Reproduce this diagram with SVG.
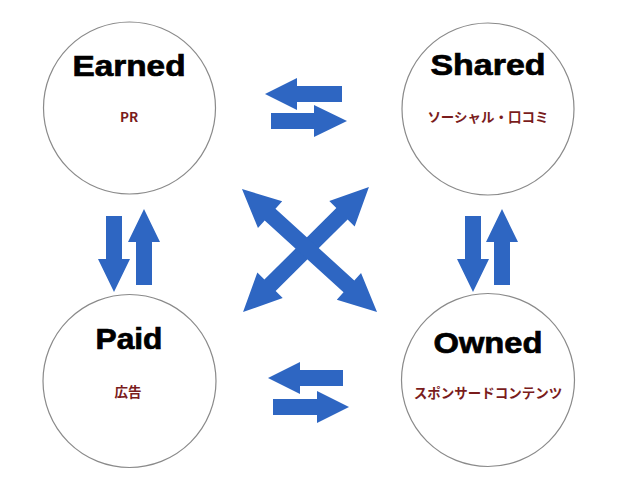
<svg xmlns="http://www.w3.org/2000/svg" width="640" height="500" viewBox="0 0 640 500">
<style>
.c{fill:#fff;stroke:#8a8a8a;stroke-width:1.2}
.t{font-family:"Liberation Sans",Arial,sans-serif;font-weight:bold;font-size:30px;fill:#000;stroke:#000;stroke-width:0.7;text-anchor:middle}
.s{font-family:"Noto Sans CJK JP","Liberation Sans",sans-serif;font-weight:bold;font-size:13.5px;fill:#7a1c1c;text-anchor:middle}
.a{fill:#2e66c2}
</style>
<rect width="640" height="500" fill="#fff"/>
<g id="earned"><circle class="c" cx="129.5" cy="108" r="86"/><text class="t" x="129" y="76" textLength="113" lengthAdjust="spacingAndGlyphs">Earned</text><text class="s" x="129" y="122">PR</text></g>
<g id="shared"><circle class="c" cx="488" cy="109" r="86"/><text class="t" x="488" y="75" textLength="115" lengthAdjust="spacingAndGlyphs">Shared</text><text class="s" x="488" y="122">ソーシャル・口コミ</text></g>
<g id="paid"><circle class="c" cx="129.5" cy="381" r="86.5"/><text class="t" x="129" y="349" textLength="67" lengthAdjust="spacingAndGlyphs">Paid</text><text class="s" x="128" y="397">広告</text></g>
<g id="owned"><circle class="c" cx="488" cy="380" r="86.5"/><text class="t" x="488" y="353" textLength="109" lengthAdjust="spacingAndGlyphs">Owned</text><text class="s" x="488" y="398">スポンサードコンテンツ</text></g>
<g id="connectors">
<polygon class="a" points="265,94 297,78 297,86 342,86 342,102 297,102 297,110"/>
<polygon class="a" points="271,113 314,113 314,105 347,121 314,137 314,129 271,129"/>
<polygon class="a" points="268,378 300,362 300,370 343,370 343,386 300,386 300,394"/>
<polygon class="a" points="273,399 317,399 317,391 349,407 317,423 317,415 273,415"/>
<polygon class="a" points="106,216 122,216 122,259 130,259 114,292 98,259 106,259"/>
<polygon class="a" points="136,285 152,285 152,242 160,242 144,209 128,242 136,242"/>
<polygon class="a" points="465,216 481,216 481,259 489,259 473,292 457,259 465,259"/>
<polygon class="a" points="494,285 510,285 510,242 518,242 502,209 486,242 494,242"/>
<path class="a" transform="translate(306 249.5) rotate(-44.8)" d="M-88.7 0 L-50.7 -18 L-50.7 -8 L50.7 -8 L50.7 -18 L88.7 0 L50.7 18 L50.7 8 L-50.7 8 L-50.7 18 Z"/>
<path class="a" transform="translate(309.5 250.5) rotate(42.3)" d="M-91.3 0 L-53.3 -18 L-53.3 -8 L53.3 -8 L53.3 -18 L91.3 0 L53.3 18 L53.3 8 L-53.3 8 L-53.3 18 Z"/>
</g>
</svg>
